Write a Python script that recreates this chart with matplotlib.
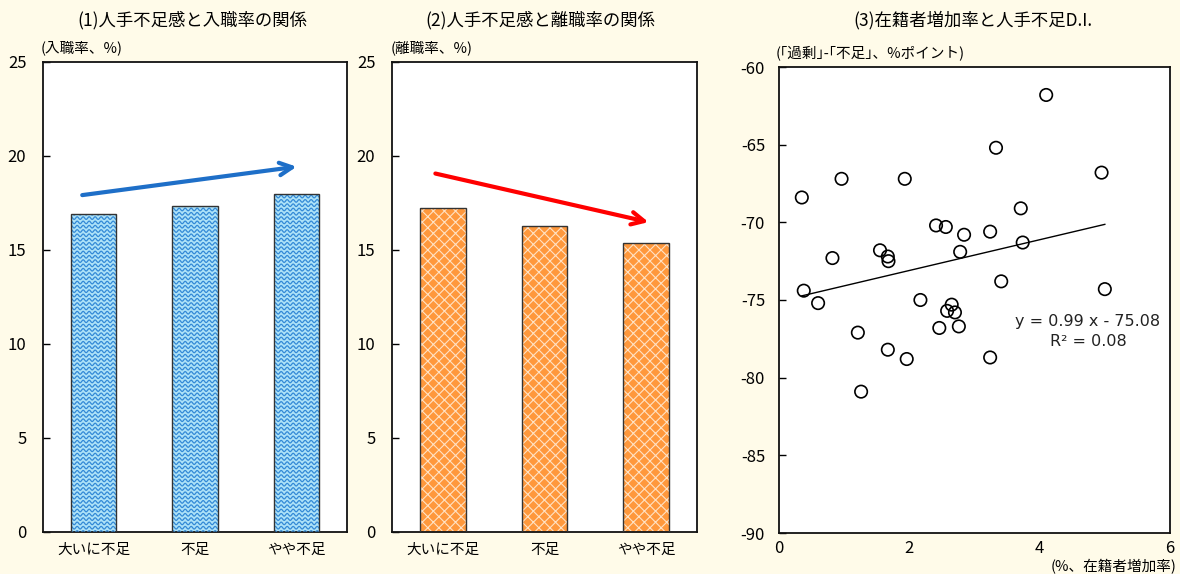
import numpy as np
import matplotlib
matplotlib.use('Agg')
import matplotlib.pyplot as plt
from matplotlib.collections import LineCollection

plt.rcParams['font.family'] = ['Noto Sans CJK JP', 'DejaVu Sans']
plt.rcParams['axes.unicode_minus'] = False

# bar charts: labour shortage level vs hiring / separation rate
categories = ['大いに不足', '不足', 'やや不足']
hire_rate = [16.9, 17.35, 18.0]
leave_rate = [17.25, 16.3, 15.35]

# scatter: growth of enrolled staff vs shortage D.I.
growth = [0.35, 0.96, 1.93, 2.41, 2.56, 2.84, 2.78, 0.82, 1.55, 1.67, 1.68, 0.38,
          4.10, 3.33, 4.95, 3.71, 3.24, 3.74, 3.41, 5.00, 0.60, 2.17, 2.65, 2.58,
          2.70, 2.46, 2.76, 1.21, 1.67, 1.96, 1.26, 3.24]
shortage_di = [-68.4, -67.2, -67.2, -70.2, -70.3, -70.8, -71.9, -72.3, -71.8, -72.2, -72.5, -74.4,
               -61.8, -65.2, -66.8, -69.1, -70.6, -71.3, -73.8, -74.3, -75.2, -75.0, -75.3, -75.7,
               -75.8, -76.8, -76.7, -77.1, -78.2, -78.8, -80.9, -78.7]
slope = 0.99
intercept = -75.08
r2 = 0.08

BG = '#FFFBE9'
W, H = 1180, 574

fig = plt.figure(figsize=(W / 100, H / 100), dpi=100, facecolor=BG)


def px_axes(l, t, r, b):
    return fig.add_axes([l / W, 1 - b / H, (r - l) / W, (b - t) / H])


def style_axes(ax):
    ax.set_facecolor('white')
    for s in ax.spines.values():
        s.set_linewidth(1.3)
        s.set_color('#111111')
    ax.tick_params(axis='y', direction='in', length=5, width=1, pad=12, labelsize=12)


def wave_fill(ax, bars, color):
    # wavy texture clipped to each bar
    pos = ax.get_position()
    w_px = pos.width * W
    h_px = pos.height * H
    x0, x1 = ax.get_xlim()
    y0, y1 = ax.get_ylim()
    sx = w_px / (x1 - x0)
    sy = h_px / (y1 - y0)
    xs = np.arange(x0, x1, 0.4 / sx)
    segs = []
    for yb in np.arange(y0, y1, 4.3 / sy):
        segs.append(np.column_stack([xs, yb + 1.3 / sy * np.sin(2 * np.pi * xs * sx / 6.0)]))
    for b in bars:
        lc = LineCollection(segs, colors=color, linewidths=0.9, zorder=3)
        ax.add_collection(lc, autolim=False)
        lc.set_clip_path(b)


x = np.arange(len(categories))

# (1) hiring rate
ax1 = px_axes(43, 62, 347, 532)
style_axes(ax1)
ax1.set_xlim(-0.5, 2.5)
ax1.set_ylim(0, 25)
ax1.set_yticks([0, 5, 10, 15, 20, 25])
ax1.set_xticks(x)
ax1.set_xticklabels(categories, fontsize=10.5)
ax1.tick_params(axis='x', length=0, pad=8)
bars1 = ax1.bar(x, hire_rate, width=0.45, color='#ADE2F8', edgecolor='none', zorder=2)
wave_fill(ax1, bars1, '#3389D6')
ax1.bar(x, hire_rate, width=0.45, facecolor='none', edgecolor='#333333', linewidth=1, zorder=4)
ax1.annotate('', xy=(2.03, 19.45), xytext=(-0.14, 17.9),
             arrowprops=dict(arrowstyle='->, head_length=0.9, head_width=0.45',
                             color='#1E6FC8', lw=3))

# (2) separation rate
ax2 = px_axes(392, 62, 697, 532)
style_axes(ax2)
ax2.set_xlim(-0.5, 2.5)
ax2.set_ylim(0, 25)
ax2.set_yticks([0, 5, 10, 15, 20, 25])
ax2.set_xticks(x)
ax2.set_xticklabels(categories, fontsize=10.5)
ax2.tick_params(axis='x', length=0, pad=8)
plt.rcParams['hatch.linewidth'] = 0.8
ax2.bar(x, leave_rate, width=0.45, color='#FF983C', edgecolor='#FFE2C4', linewidth=0,
        hatch='xxx', zorder=2)
ax2.bar(x, leave_rate, width=0.45, facecolor='none', edgecolor='#333333', linewidth=1, zorder=4)
ax2.annotate('', xy=(2.05, 16.45), xytext=(-0.1, 19.1),
             arrowprops=dict(arrowstyle='->, head_length=0.9, head_width=0.45',
                             color='#FF0000', lw=3))

# (3) scatter with linear trend
ax3 = px_axes(779, 67, 1170, 533)
style_axes(ax3)
ax3.set_xlim(0, 6)
ax3.set_ylim(-90, -60)
ax3.set_xticks([0, 2, 4, 6])
ax3.set_yticks(np.arange(-90, -59, 5))
ax3.tick_params(axis='y', pad=10)
ax3.tick_params(axis='x', length=0, pad=5, labelsize=12)
ax3.scatter(growth, shortage_di, s=80, facecolors='none', edgecolors='black', linewidths=1.2, zorder=3)
xl = np.array([min(growth), max(growth)])
ax3.plot(xl, slope * xl + intercept, color='black', lw=1, zorder=2)
ax3.text(4.74, -76.4, f'y = {slope:.2f} x - {abs(intercept):.2f}', ha='center', va='center',
         fontsize=11.5, family=['DejaVu Sans'], color='#222222')
ax3.text(4.74, -77.65, f'R² = {r2:.2f}', ha='center', va='center', fontsize=11.5,
         family=['DejaVu Sans'], color='#222222')

# titles and unit labels
fig.text(192 / W, 1 - 20 / H, '(1)人手不足感と入職率の関係', ha='center', va='center', fontsize=12.5)
fig.text(540 / W, 1 - 20 / H, '(2)人手不足感と離職率の関係', ha='center', va='center', fontsize=12.5)
fig.text(973 / W, 1 - 20 / H, '(3)在籍者増加率と人手不足D.I.', ha='center', va='center', fontsize=12.5)
fig.text(41 / W, 1 - 48 / H, '(入職率、%)', ha='left', va='center', fontsize=10.5)
fig.text(391 / W, 1 - 48 / H, '(離職率、%)', ha='left', va='center', fontsize=10.5)
fig.text(776 / W, 1 - 53 / H, '(｢過剰｣-｢不足｣、%ポイント)', ha='left', va='center', fontsize=10.5)
fig.text(1177 / W, 1 - 567 / H, '(%、在籍者増加率)', ha='right', va='center', fontsize=10.5)

fig.savefig('out.png', dpi=100, facecolor=BG)
